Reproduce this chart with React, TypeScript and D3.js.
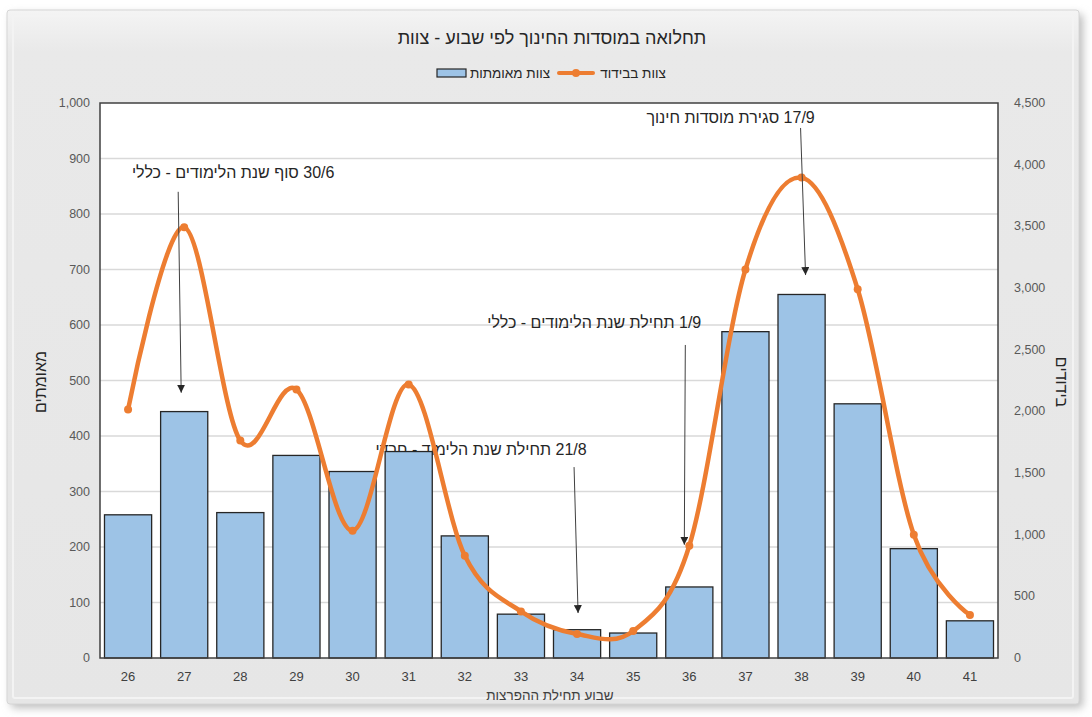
import React from "react"
import * as d3 from "d3"

// Data
const weeks = ["26", "27", "28", "29", "30", "31", "32", "33", "34", "35", "36", "37", "38", "39", "40", "41"]
const confirmedStaff = [258, 444, 262, 365, 336, 372, 220, 79, 51, 45, 128, 588, 655, 458, 197, 67]
const isolatedStaff = [2015, 3493, 1763, 2177, 1032, 2218, 829, 378, 195, 219, 910, 3150, 3895, 2990, 1000, 349]
const leftTicks = [0, 100, 200, 300, 400, 500, 600, 700, 800, 900, 1000]
const rightTicks = [0, 500, 1000, 1500, 2000, 2500, 3000, 3500, 4000, 4500]

const title = "תחלואה במוסדות החינוך לפי שבוע - צוות"
const barName = "צוות מאומתות"
const lineName = "צוות בבידוד"
const leftTitle = "מאומתים"
const rightTitle = "בידודים"
const xTitle = "שבוע תחילת ההפרצות"

// annotations: anchored on a week, heights in left-axis units
const notes = [
  { text: "30/6 סוף שנת הלימודים - כללי", week: "27", tail: 840, tip: 478, textAt: 865, textDx: 49, tailDx: -6, tipDx: -3 },
  { text: "21/8 תחילת שנת הלימוד - חרדי", week: "34", tail: 344, tip: 81, textAt: 366, textDx: -96, tailDx: -3, tipDx: 1 },
  { text: "1/9 תחילת שנת הלימודים - כללי", week: "36", tail: 564, tip: 204, textAt: 595, textDx: -95, tailDx: -4, tipDx: -5 },
  { text: "17/9 סגירת מוסדות חינוך", week: "38", tail: 955, tip: 690, textAt: 964, textDx: -71, tailDx: -1, tipDx: 4 },
]

const W = 1092
const H = 717
const plot = { left: 100, right: 998, top: 103, bottom: 658 }
const font = "'Liberation Sans', Arial, sans-serif"
const orange = "#ED7D31"
const blue = "#9DC3E6"

export default function App() {
  const x = d3.scaleBand().domain(weeks).range([plot.left, plot.right]).paddingInner(0.16).paddingOuter(0.08)
  const xc = (w: string) => (x(w) as number) + x.bandwidth() / 2
  const yL = d3.scaleLinear().domain([0, 1000]).range([plot.bottom, plot.top])
  const yR = d3.scaleLinear().domain([0, 4500]).range([plot.bottom, plot.top])

  const line = d3
    .line<number>()
    .x((d, i) => xc(weeks[i]))
    .y(d => yR(d))
    .curve(d3.curveCardinal.tension(0))

  const legendY = 73

  return (
    <div style={{ position: "absolute", left: 0, top: 0 }}>
      <svg width={W} height={H} style={{ display: "block", background: "#fff" }}>
        <defs>
          <filter id="shadow" x="-5%" y="-5%" width="110%" height="110%">
            <feGaussianBlur stdDeviation="4" />
          </filter>
          <linearGradient id="bg" x1="0" y1="0" x2="0" y2="1">
            <stop offset="0" stopColor="#f4f4f4" />
            <stop offset="0.06" stopColor="#e9e9e9" />
            <stop offset="1" stopColor="#e6e6e6" />
          </linearGradient>
          <marker id="arrow" viewBox="0 0 10 10" refX="10" refY="5" markerWidth="8" markerHeight="8" orient="auto">
            <path d="M0,0 L10,5 L0,10 z" fill="#262626" />
          </marker>
        </defs>

        {/* frame */}
        <rect x={11} y={14} width={1072} height={694} rx={4} fill="#bdbdbd" filter="url(#shadow)" />
        <rect x={7} y={10} width={1072} height={694} rx={3} fill="url(#bg)" stroke="#d6d6d6" />
        <rect x={13} y={16} width={1060} height={682} rx={2} fill="none" stroke="#f3f3f3" strokeWidth={2} />

        {/* title + legend */}
        <text x={552} y={44} textAnchor="middle" direction="rtl" fontFamily={font} fontSize={18} fill="#262626">
          {title}
        </text>
        <rect x={437} y={legendY - 4} width={29} height={8} fill={blue} stroke="#262626" strokeWidth={1.2} />
        <text x={510} y={legendY + 5} textAnchor="middle" direction="rtl" fontFamily={font} fontSize={13.5} fill="#262626">
          {barName}
        </text>
        <line x1={559} x2={593} y1={legendY} y2={legendY} stroke={orange} strokeWidth={4} strokeLinecap="round" />
        <circle cx={576} cy={legendY} r={4} fill={orange} />
        <text x={633} y={legendY + 5} textAnchor="middle" direction="rtl" fontFamily={font} fontSize={13.5} fill="#262626">
          {lineName}
        </text>

        {/* plot area */}
        <rect x={plot.left} y={plot.top} width={plot.right - plot.left} height={plot.bottom - plot.top} fill="#fff" />
        {leftTicks.slice(1, -1).map(t => (
          <line key={t} x1={plot.left} x2={plot.right} y1={yL(t)} y2={yL(t)} stroke="#d9d9d9" strokeWidth={1.3} />
        ))}

        {/* annotation texts sit under the series */}
        {notes.map(n => (
          <text
            key={n.text}
            x={xc(n.week) + n.textDx}
            y={yL(n.textAt)}
            textAnchor="middle"
            direction="rtl"
            fontFamily={font}
            fontSize={16}
            fill="#262626"
          >
            {n.text}
          </text>
        ))}

        {/* bars */}
        {confirmedStaff.map((v, i) => (
          <rect
            key={weeks[i]}
            x={x(weeks[i])}
            y={yL(v)}
            width={x.bandwidth()}
            height={yL(0) - yL(v)}
            fill={blue}
            stroke="#262626"
            strokeWidth={1.3}
          />
        ))}

        {/* line */}
        <path d={line(isolatedStaff) || ""} fill="none" stroke={orange} strokeWidth={4.5} strokeLinejoin="round" />
        {isolatedStaff.map((v, i) => (
          <circle key={weeks[i]} cx={xc(weeks[i])} cy={yR(v)} r={4} fill={orange} />
        ))}

        {/* arrows */}
        {notes.map(n => (
          <line
            key={n.text}
            x1={xc(n.week) + n.tailDx}
            y1={yL(n.tail)}
            x2={xc(n.week) + n.tipDx}
            y2={yL(n.tip)}
            stroke="#404040"
            strokeWidth={1}
            markerEnd="url(#arrow)"
          />
        ))}

        {/* plot border */}
        <rect
          x={plot.left}
          y={plot.top}
          width={plot.right - plot.left}
          height={plot.bottom - plot.top}
          fill="none"
          stroke="#404040"
          strokeWidth={1.5}
        />

        {/* axes labels */}
        {leftTicks.map(t => (
          <text key={t} x={90} y={yL(t) + 4} textAnchor="end" fontFamily={font} fontSize={12.5} fill="#595959">
            {d3.format(",")(t)}
          </text>
        ))}
        {rightTicks.map(t => (
          <text key={t} x={1014} y={yR(t) + 4} textAnchor="start" fontFamily={font} fontSize={12.5} fill="#595959">
            {d3.format(",")(t)}
          </text>
        ))}
        {weeks.map(w => (
          <text key={w} x={xc(w)} y={681} textAnchor="middle" fontFamily={font} fontSize={13} fill="#404040">
            {w}
          </text>
        ))}
        <text x={550} y={700} textAnchor="middle" direction="rtl" fontFamily={font} fontSize={13.5} fill="#404040">
          {xTitle}
        </text>
        <text
          transform="translate(46,382) rotate(-90)"
          textAnchor="middle"
          direction="rtl"
          fontFamily={font}
          fontSize={16}
          fill="#262626"
        >
          {leftTitle}
        </text>
        <text
          transform="translate(1056,382) rotate(90)"
          textAnchor="middle"
          direction="rtl"
          fontFamily={font}
          fontSize={16}
          fill="#262626"
        >
          {rightTitle}
        </text>
      </svg>
    </div>
  )
}
